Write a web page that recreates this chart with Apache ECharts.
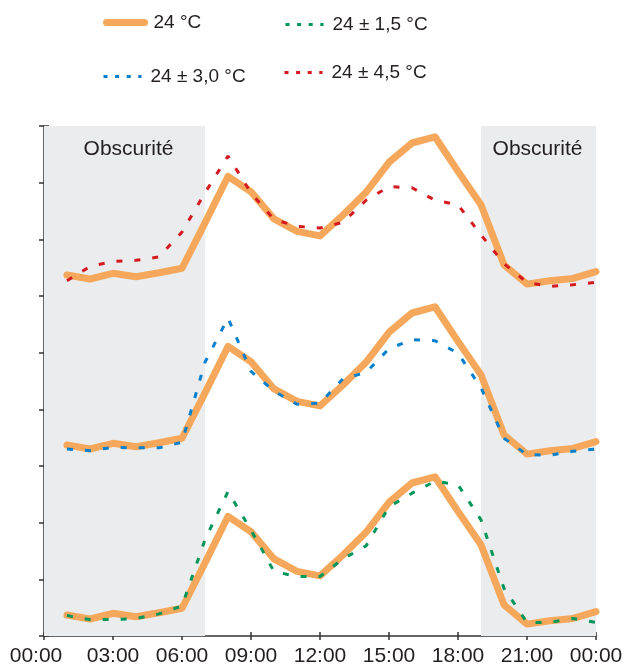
<!DOCTYPE html>
<html>
<head>
<meta charset="utf-8">
<script src="https://cdn.jsdelivr.net/npm/echarts@6/dist/echarts.min.js"></script>
<style>
  html, body { margin: 0; padding: 0; background: #ffffff; }
  #chart { width: 625px; height: 664px; }
</style>
</head>
<body>
<div id="chart"></div>
<script>
// Hours of the day (x positions of the measured points)
var hours = [1,2,3,4,5,6,7,8,9,10,11,12,13,14,15,16,17,18,19,20,21,22,23,24];
// x-axis tick labels (every 3 hours)
var tickHours = [0,3,6,9,12,15,18,21,24];
var tickLabels = ['00:00','03:00','06:00','09:00','12:00','15:00','18:00','21:00','00:00'];
// dark periods
var darkPeriods = [[0,7],[19,24]];
var darkLabel = 'Obscurité';

// series names
var nameRef = '24 °C';
var name15 = '24 ± 1,5 °C';
var name30 = '24 ± 3,0 °C';
var name45 = '24 ± 4,5 °C';

// reference curve (24 °C), drawn in three stacked panels (bottom, middle, top)
var orangeBottom = [0.37,0.30,0.40,0.34,0.41,0.49,1.29,2.11,1.84,1.36,1.14,1.06,1.43,1.83,2.36,2.70,2.81,2.20,1.61,0.55,0.21,0.27,0.31,0.43];
var orangeMid    = [3.37,3.30,3.40,3.34,3.41,3.49,4.29,5.11,4.84,4.36,4.14,4.06,4.43,4.83,5.36,5.70,5.81,5.20,4.61,3.55,3.21,3.27,3.31,3.43];
var orangeTop    = [6.37,6.30,6.40,6.34,6.41,6.49,7.29,8.11,7.84,7.36,7.14,7.06,7.43,7.83,8.36,8.70,8.81,8.20,7.61,6.55,6.21,6.27,6.31,6.43];
// 24 ± 1,5 °C (bottom panel)
var green = [0.36,0.29,0.29,0.31,0.39,0.53,1.70,2.55,1.87,1.14,1.05,1.05,1.36,1.59,2.28,2.52,2.73,2.67,2.05,0.84,0.24,0.24,0.31,0.24];
// 24 ± 3,0 °C (middle panel)
var blue = [3.30,3.27,3.33,3.32,3.32,3.42,4.83,5.61,4.67,4.32,4.09,4.11,4.54,4.65,5.07,5.23,5.21,4.99,4.38,3.49,3.20,3.19,3.26,3.30];
// 24 ± 4,5 °C (top panel)
var red = [6.27,6.52,6.61,6.63,6.69,7.13,7.82,8.47,7.82,7.35,7.23,7.20,7.30,7.69,7.93,7.91,7.69,7.61,7.08,6.57,6.24,6.17,6.20,6.24];

var FONT = '"Liberation Sans", Arial, Helvetica, sans-serif';
var C_OR = '#f5a85b', C_GR = '#00965a', C_BL = '#0680cc', C_RD = '#d41a1f';

function pairs(vals) { return hours.map(function (h, i) { return [h, vals[i]]; }); }
function labelFor(v) { var i = tickHours.indexOf(v); return i >= 0 ? tickLabels[i] : ''; }

var chart = echarts.init(document.getElementById('chart'), null, { renderer: 'canvas' });

function orangeSeries(vals) {
  return {
    type: 'line', name: nameRef, data: pairs(vals), symbol: 'none', z: 3,
    lineStyle: { color: C_OR, width: 7, cap: 'round', join: 'round' },
    itemStyle: { color: C_OR }, animation: false
  };
}
function dashSeries(name, vals, color) {
  return {
    type: 'line', name: name, data: pairs(vals), symbol: 'none', z: 4,
    lineStyle: { color: color, width: 3, type: [6, 12] },
    itemStyle: { color: color }, animation: false
  };
}
function legendAt(name, left, top, color, isRef) {
  return {
    data: [{ name: name }], left: left, top: top, padding: 0, orient: 'horizontal',
    itemWidth: 38, itemHeight: 14, selectedMode: false,
    itemStyle: { opacity: 0 },
    textStyle: { fontFamily: FONT, fontSize: 19, color: '#231f20', padding: [0, 0, 0, 4] },
    lineStyle: isRef ? { color: color, width: 7, cap: 'round' } : { color: color, width: 3, type: [4, 7.6] }
  };
}

var option = {
  backgroundColor: '#ffffff',
  animation: false,
  textStyle: { fontFamily: FONT },
  legend: [
    legendAt(nameRef, 103, 13, C_OR, true),
    legendAt(name15, 284, 15, C_GR, false),
    legendAt(name30, 102, 67, C_BL, false),
    legendAt(name45, 283, 63, C_RD, false)
  ],
  grid: { left: 44, right: 29, top: 126, bottom: 28, containLabel: false, outerBoundsMode: 'none' },
  xAxis: [{
    type: 'value', min: 0, max: 24, interval: 3,
    axisLine: { show: true, onZero: false, lineStyle: { color: '#333333', width: 1.5 } },
    axisTick: { show: true, inside: false, length: 4, lineStyle: { color: '#333333', width: 1.5 } },
    axisLabel: {
      show: true, margin: 10, fontFamily: FONT, fontSize: 21, color: '#231f20',
      formatter: function (v) { return v === 0 ? '{first|' + labelFor(v) + '}' : labelFor(v); },
      rich: { first: { fontFamily: FONT, fontSize: 21, color: '#231f20', padding: [0, 16, 0, 0] } }
    },
    splitLine: { show: false }
  }, {
    type: 'value', min: 0, max: 24, interval: 3, position: 'bottom',
    axisLine: { show: false },
    axisTick: { show: true, inside: true, length: 4, lineStyle: { color: '#333333', width: 1.5 } },
    axisLabel: { show: false }, splitLine: { show: false }
  }],
  yAxis: [{
    type: 'value', min: 0, max: 9, interval: 1,
    axisLine: { show: true, onZero: false, lineStyle: { color: '#333333', width: 1.5 } },
    axisTick: { show: true, inside: false, length: 5, lineStyle: { color: '#333333', width: 1.5 } },
    axisLabel: { show: false }, splitLine: { show: false }
  }, {
    type: 'value', min: 0, max: 9, interval: 1, position: 'left',
    axisLine: { show: false },
    axisTick: { show: true, inside: true, length: 5, lineStyle: { color: '#333333', width: 1.5 } },
    axisLabel: { show: false }, splitLine: { show: false }
  }],
  series: [
    {
      type: 'line', name: '_dark', data: [], z: 1, silent: true,
      markArea: {
        silent: true,
        itemStyle: { color: '#ebecee' },
        label: { show: true, position: 'insideTop', distance: 13, fontFamily: FONT, fontSize: 21, color: '#231f20' },
        data: darkPeriods.map(function (p, i) {
          return [{ xAxis: p[0], name: darkLabel, label: { offset: [i === 0 ? 4 : -1, 0] } }, { xAxis: p[1] }];
        })
      }
    },
    orangeSeries(orangeBottom),
    orangeSeries(orangeMid),
    orangeSeries(orangeTop),
    dashSeries(name15, green, C_GR),
    dashSeries(name30, blue, C_BL),
    dashSeries(name45, red, C_RD)
  ]
};
chart.setOption(option);
</script>
</body>
</html>
